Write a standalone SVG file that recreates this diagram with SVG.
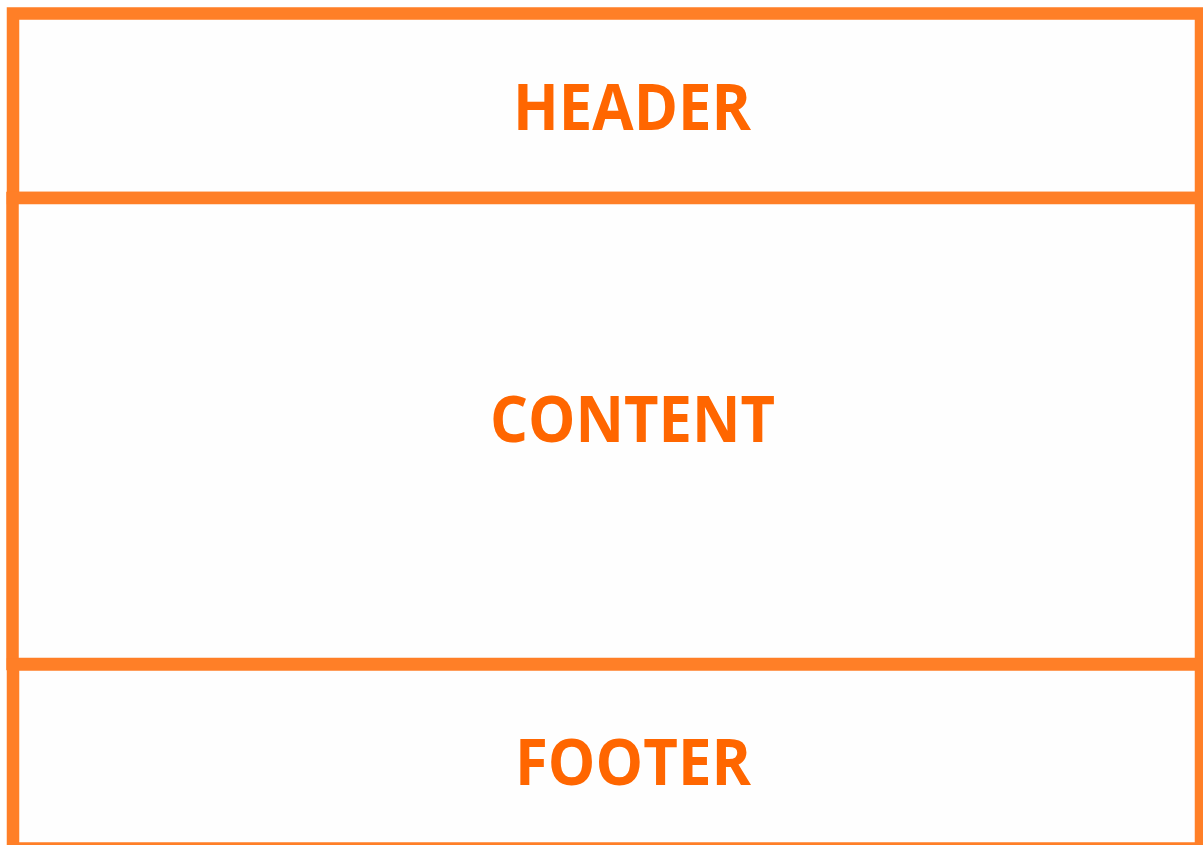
<svg xmlns="http://www.w3.org/2000/svg" width="1203" height="845" viewBox="0 0 1203 845">
<style>
.box{fill:#fefefe;stroke:#ff7f27;stroke-width:12.5}
.lbl{font-family:"Open Sans","Liberation Sans",sans-serif;font-weight:bold;font-size:64px;fill:#ff6600;text-anchor:middle}
</style>
<rect width="1203" height="845" fill="#ffffff"/>
<g id="header">
<rect class="box" x="13" y="13.5" width="1188" height="184.5"/>
<text class="lbl" x="632" y="130" textLength="238" lengthAdjust="spacingAndGlyphs">HEADER</text>
</g>
<g id="content">
<rect class="box" x="12.5" y="198" width="1188.5" height="466"/>
<text class="lbl" x="632.5" y="442" textLength="285" lengthAdjust="spacingAndGlyphs">CONTENT</text>
</g>
<g id="footer">
<rect class="box" x="13" y="664.5" width="1188" height="184"/>
<text class="lbl" x="633" y="785" textLength="236" lengthAdjust="spacingAndGlyphs">FOOTER</text>
</g>
<g id="connectors"></g>
</svg>
